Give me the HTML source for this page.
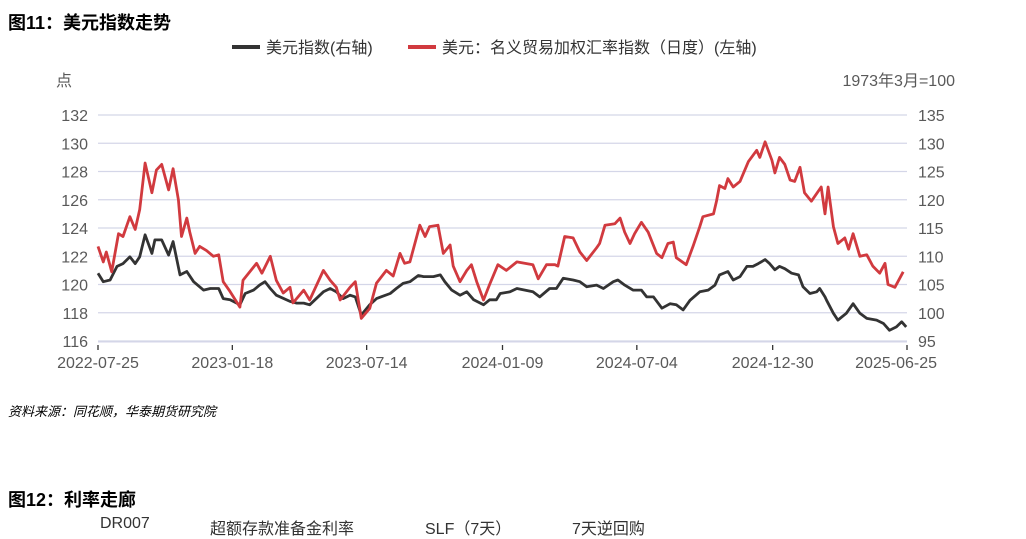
<!DOCTYPE html>
<html><head><meta charset="utf-8">
<style>
body{margin:0;background:#fff;width:1026px;height:526px;overflow:hidden;position:relative;font-family:"Liberation Sans","Noto Sans CJK SC",sans-serif;}
.t{position:absolute;white-space:nowrap;}
</style></head><body>
<div class="t" style="left:8px;top:9px;font-size:18px;font-weight:bold;color:#000;">图11：美元指数走势</div>
<svg id="c" width="1026" height="400" style="position:absolute;left:0;top:0;font-family:'Liberation Sans','Noto Sans CJK SC',sans-serif;"></svg>
<div class="t" style="left:8px;top:401px;font-size:13px;font-style:italic;color:#000;">资料来源：同花顺，华泰期货研究院</div>
<div class="t" style="left:8px;top:486px;font-size:18px;font-weight:bold;color:#000;">图12：利率走廊</div>
<div class="t" style="left:100px;top:515px;font-size:16px;color:#333;">DR007</div>
<div class="t" style="left:210px;top:515px;font-size:16px;color:#333;">超额存款准备金利率</div>
<div class="t" style="left:425px;top:515px;font-size:16px;color:#333;">SLF（7天）</div>
<div class="t" style="left:572px;top:515px;font-size:16px;color:#333;">7天逆回购</div>
<script>
const leftTicks=[116,118,120,122,124,126,128,130,132];
const rightTicks=[95,100,105,110,115,120,125,130,135];
const dateLabels=["2022-07-25","2023-01-18","2023-07-14","2024-01-09","2024-07-04","2024-12-30","2025-06-25"];
const dateDays=[0,177,354,533,710,889,1066];
// red: trade-weighted index (left axis) - day offsets from 2022-07-25 and values
const redDays=[0,7,11,18,27,33,42,49,55,62,71,77,84,93,99,106,110,117,121,128,134,143,152,159,165,174,187,191,209,216,227,235,244,253,257,271,279,297,306,314,319,332,339,347,358,367,380,389,398,404,411,424,431,437,448,455,464,468,477,486,492,499,508,516,527,538,552,573,580,591,602,606,615,626,635,644,657,661,668,681,688,694,701,707,716,725,736,743,751,758,762,775,784,793,797,811,815,819,826,830,837,846,857,868,872,879,888,892,898,905,912,918,925,931,940,953,958,962,969,975,984,989,995,1004,1013,1021,1030,1037,1041,1050,1061];
const redVals=[122.7,121.6,122.3,120.9,123.6,123.4,124.8,123.9,125.3,128.6,126.5,128.1,128.5,126.7,128.2,126.0,123.4,124.7,123.7,122.2,122.7,122.4,122.0,122.1,120.2,119.5,118.4,120.3,121.5,120.8,122.0,120.3,119.4,119.8,118.7,119.6,118.9,121.0,120.3,119.8,118.9,119.8,120.2,117.6,118.3,120.1,121.0,120.6,122.2,121.5,121.6,124.2,123.4,124.1,124.2,122.2,122.8,121.3,120.2,121.0,121.4,120.2,118.9,120.0,121.4,121.0,121.6,121.4,120.4,121.4,121.4,121.3,123.4,123.3,122.3,121.7,122.6,122.9,124.2,124.3,124.7,123.7,122.9,123.6,124.4,123.7,122.2,121.9,122.9,123.0,121.9,121.4,122.7,124.1,124.8,125.0,125.9,127.0,126.8,127.5,126.9,127.3,128.7,129.5,129.0,130.1,128.8,127.9,129.0,128.5,127.4,127.3,128.3,126.5,125.9,126.9,125.0,126.9,124.1,122.9,123.3,122.5,123.6,122.0,122.1,121.3,120.8,121.5,120.0,119.8,120.9];
// black: dollar index (right axis)
const blackDays=[0,7,16,25,33,42,49,55,62,71,75,84,93,99,108,117,126,139,148,159,165,174,187,194,205,213,220,227,235,253,262,271,279,297,306,314,323,332,339,347,358,367,385,393,402,411,422,429,442,451,457,466,477,486,495,508,516,525,530,543,552,573,582,595,604,613,626,635,644,657,666,679,685,694,705,716,723,732,743,754,762,771,780,793,804,813,819,830,837,846,855,863,870,879,885,892,898,905,914,923,929,938,947,951,958,960,969,975,986,995,1004,1013,1026,1035,1043,1052,1059,1065];
const blackVals=[107.0,105.5,105.8,108.2,108.7,109.9,108.7,109.9,113.8,110.5,112.9,112.9,110.2,112.6,106.7,107.3,105.5,104.0,104.3,104.3,102.5,102.3,101.4,103.4,104.0,104.9,105.5,104.3,103.1,102.0,101.7,101.7,101.4,103.7,104.3,103.7,102.5,103.1,102.8,99.6,101.4,102.5,103.4,104.3,105.2,105.5,106.6,106.4,106.4,106.7,105.5,104.0,103.1,103.7,102.3,101.4,102.3,102.3,103.4,103.7,104.3,103.7,102.8,104.3,104.3,106.1,105.8,105.5,104.6,104.9,104.3,105.5,105.8,104.9,104.0,104.0,102.8,102.8,100.8,101.6,101.4,100.5,102.2,103.7,104.0,104.9,106.7,107.3,105.8,106.4,108.2,108.2,108.7,109.4,108.7,107.6,108.2,107.8,107.0,106.7,104.6,103.4,103.7,104.3,102.8,102.2,99.9,98.7,99.9,101.6,99.9,99.0,98.7,98.1,96.9,97.5,98.4,97.5];

const svg=document.getElementById('c');
const NS='http://www.w3.org/2000/svg';
const X0=98,X1=907,Y0=341,Y1=115;
const xs=d=>X0+(d/1066)*(X1-X0);
const yl=v=>Y0-(v-116)/(132-116)*(Y0-Y1);
const yr=v=>Y0-(v-95)/(135-95)*(Y0-Y1);
function el(tag,attrs,txt){const e=document.createElementNS(NS,tag);for(const k in attrs)e.setAttribute(k,attrs[k]);if(txt!==undefined)e.textContent=txt;svg.appendChild(e);return e;}
leftTicks.forEach((v,i)=>{
  const g=el('line',{x1:X0,x2:X1,y1:yl(v),y2:yl(v),stroke:'#d4d6e8','stroke-width':1.3});
  
  
  const t=el('text',{x:88,y:yl(v)+6,'text-anchor':'end','font-size':16,fill:'#595959'},v);
  
  
});
rightTicks.forEach(v=>{
  const t=el('text',{x:918,y:yr(v)+6,'font-size':16,fill:'#595959'},v);
  
  
});
const ax=el('line',{x1:X0,x2:X1,y1:Y0+1,y2:Y0+1,stroke:'#d4d6e8','stroke-width':1});


dateLabels.forEach((s,i)=>{
  const x=xs(dateDays[i]);
  const tk=el('line',{x1:x,x2:x,y1:Y0+4,y2:Y0+9,stroke:'#333','stroke-width':1.3});
  
  
  const anchor=i===dateLabels.length-1?'end':'middle';
  const t=el('text',{x:i===dateLabels.length-1?x+30:x,y:368,'text-anchor':anchor,'font-size':16,fill:'#595959'},s);
  
  
});
function line(days,vals,yf,color,name){
  const d=days.map((dd,i)=>(i?'L':'M')+xs(dd).toFixed(1)+','+yf(vals[i]).toFixed(1)).join('');
  const p=el('path',{d:d,fill:'none',stroke:color,'stroke-width':2.8,'stroke-linejoin':'round'});
  
  
}
line(blackDays,blackVals,yr,'#333333','dollar-index-line');
line(redDays,redVals,yl,'#d13a3f','trade-weighted-index-line');
// legend
const l1=el('line',{x1:232,x2:260,y1:47,y2:47,stroke:'#333','stroke-width':4});


const t1=el('text',{x:266,y:53,'font-size':16,fill:'#333'},'美元指数(右轴)');


const l2=el('line',{x1:408,x2:436,y1:47,y2:47,stroke:'#d13a3f','stroke-width':4});


const t2=el('text',{x:442,y:53,'font-size':16,fill:'#333'},'美元：名义贸易加权汇率指数（日度）(左轴)');


const u1=el('text',{x:56,y:86,'font-size':16,fill:'#595959'},'点');


const u2=el('text',{x:955,y:86,'text-anchor':'end','font-size':16,fill:'#595959'},'1973年3月=100');


</script>
</body></html>
